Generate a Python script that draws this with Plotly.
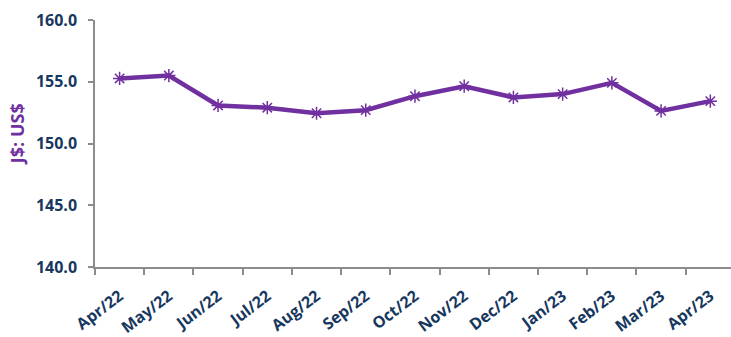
import plotly.graph_objects as go

months = ["Apr/22", "May/22", "Jun/22", "Jul/22", "Aug/22", "Sep/22", "Oct/22",
          "Nov/22", "Dec/22", "Jan/23", "Feb/23", "Mar/23", "Apr/23"]
rates = [155.27, 155.50, 153.08, 152.90, 152.45, 152.70, 153.83,
         154.64, 153.73, 154.00, 154.91, 152.64, 153.43]
y_ticks = [140, 145, 150, 155, 160]
y_ticklabels = ["140.0", "145.0", "150.0", "155.0", "160.0"]

purple = "#7030A0"
navy = "#17375E"
axis_gray = "#8C8C8C"

fig = go.Figure()
fig.add_trace(go.Scatter(
    x=months, y=rates, mode="lines+markers",
    line=dict(color=purple, width=4.5),
    marker=dict(symbol="asterisk-open", size=11, color=purple,
                line=dict(color=purple, width=1.5)),
    showlegend=False,
))

fig.update_layout(
    width=731, height=337,
    margin=dict(l=95, r=0, t=20, b=70),
    paper_bgcolor="white", plot_bgcolor="white",
    font=dict(family="Open Sans", size=16, color=navy),
    xaxis=dict(
        type="category",
        range=[-0.5, 12.42],
        tickson="boundaries",
        ticks="outside", ticklen=6, tickcolor=axis_gray, tickwidth=1.5,
        showline=True, linecolor=axis_gray, linewidth=1.5,
        showgrid=False, zeroline=False,
        tickangle=-37,
        ticklabelstandoff=12,
        tickfont=dict(family="Open Sans", size=16, color=navy, weight="bold"),
    ),
    yaxis=dict(
        range=[140, 160],
        tickvals=y_ticks, ticktext=y_ticklabels,
        ticks="outside", ticklen=5, tickcolor=axis_gray, tickwidth=1.5,
        showline=True, linecolor=axis_gray, linewidth=1.5,
        showgrid=False, zeroline=False,
        ticklabelstandoff=8,
        tickfont=dict(family="Open Sans", size=16, color=navy, weight="bold"),
    ),
    annotations=[dict(
        text="<b>J$: US$</b>", xref="paper", yref="paper",
        x=(17 - 95) / 636, y=(266.7 - 134) / 246.7,
        xanchor="center", yanchor="middle", textangle=-90, showarrow=False,
        font=dict(family="Open Sans", size=18, color=purple),
    )],
)

fig.write_html("out.html")
